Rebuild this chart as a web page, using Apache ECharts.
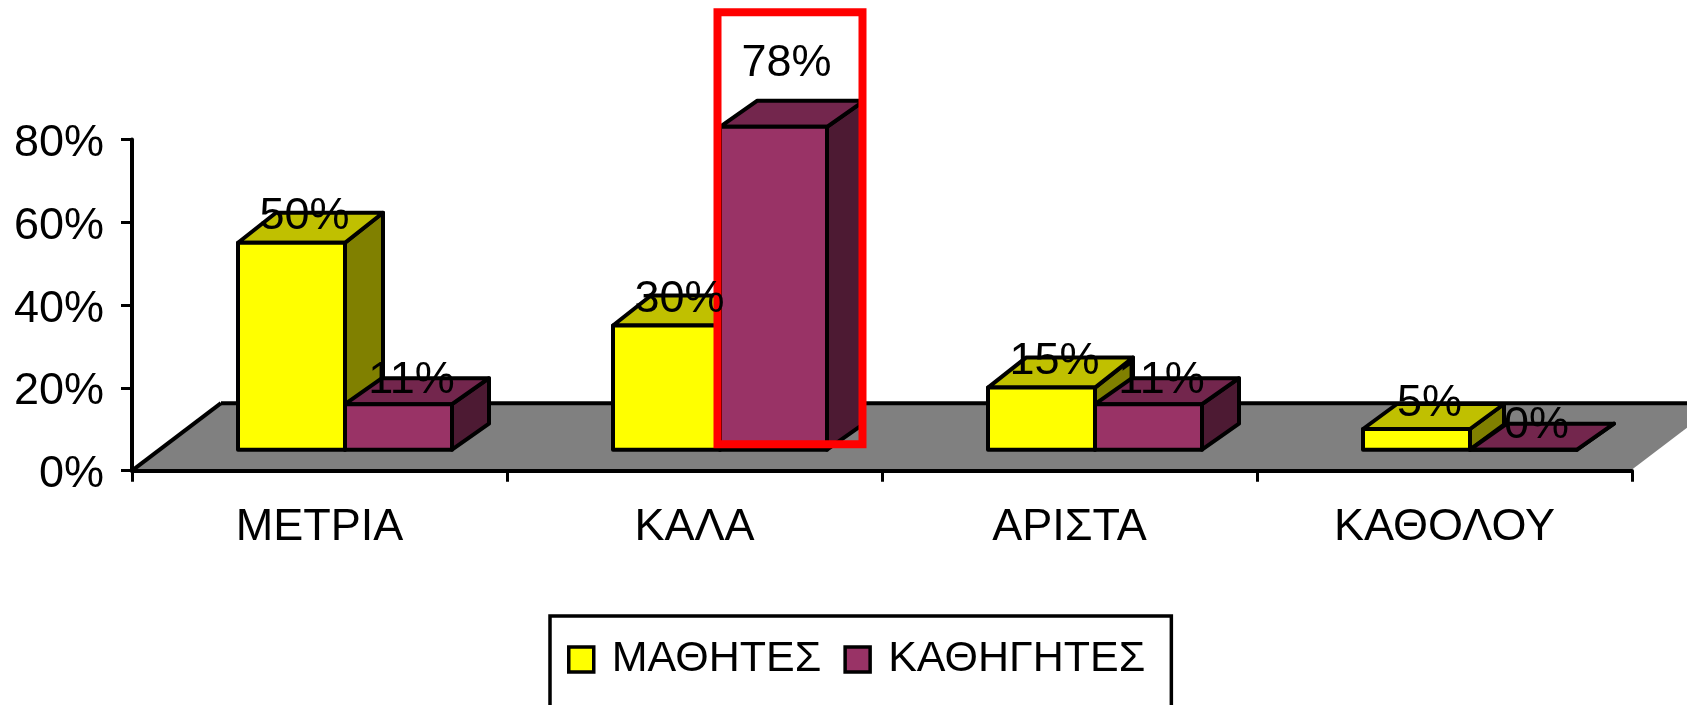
<!DOCTYPE html>
<html>
<head>
<meta charset="utf-8">
<style>html,body{margin:0;padding:0;background:#fff}#c{width:1687px;height:705px}</style>
<script src="https://cdn.jsdelivr.net/npm/echarts@6/dist/echarts.min.js"></script>
</head>
<body>
<div id="c"></div>
<script>
const categories = ['ΜΕΤΡΙΑ', 'ΚΑΛΑ', 'ΑΡΙΣΤΑ', 'ΚΑΘΟΛΟΥ'];
const students = [50, 30, 15, 5];
const teachers = [11, 78, 11, 0];
const seriesNames = ['ΜΑΘΗΤΕΣ', 'ΚΑΘΗΓΗΤΕΣ'];
const yTicks = [0, 20, 40, 60, 80];
const highlighted = 'ΚΑΛΑ';

const FONT = '"Liberation Sans", Arial, sans-serif';
const FS = 45;
const BAR_W = 107, SHIFT_X = 25.5, SHIFT_Y = 21;
const black = '#000';

const poly = (points, fill, z2) => ({
  type: 'polygon', z2,
  shape: { points },
  style: { fill, stroke: black, lineWidth: 4, lineJoin: 'round' }
});

function frame(api, offsetSign) {
  const cat = api.value(0), v = api.value(1);
  const base = api.coord([cat, 0]);
  const top = api.coord([cat, v]);
  const edge = base[0] + SHIFT_X;
  const x0 = offsetSign < 0 ? edge - BAR_W : edge;
  return { cat, v, x0, x1: x0 + BAR_W, y0: base[1] - SHIFT_Y, y1: top[1] - SHIFT_Y };
}

function barItem(api, f, dx, dy, c, z) {
  return [
    poly([[f.x1, f.y0], [f.x1 + dx, f.y0 - dy], [f.x1 + dx, f.y1 - dy], [f.x1, f.y1]], c.side, z),
    poly([[f.x0, f.y1], [f.x0 + dx, f.y1 - dy], [f.x1 + dx, f.y1 - dy], [f.x1, f.y1]], c.top, z),
    poly([[f.x0, f.y0], [f.x1, f.y0], [f.x1, f.y1], [f.x0, f.y1]], c.front, z)
  ];
}

function labelItem(f, dy, shift) {
  return {
    type: 'text', z2: 20,
    style: {
      x: (f.x0 + f.x1) / 2 + 13, y: f.y1 - dy + shift,
      text: f.v + '%', font: FS + 'px ' + FONT, fill: black,
      align: 'center', verticalAlign: 'middle'
    }
  };
}

const yellowColors = { front: '#FFFF00', top: '#C0C000', side: '#808000' };
const purpleColors = { front: '#993366', top: '#73264D', side: '#4D1A33' };

function renderStudents(params, api) {
  const f = frame(api, -1);
  const small = f.v < 10;
  const dx = small ? 34 : 38, dy = small ? 25 : 30;
  return { type: 'group', children: [...barItem(api, f, dx, dy, yellowColors, 1), labelItem(f, dy, small ? 0 : 4)] };
}

function renderTeachers(params, api) {
  const f = frame(api, 1);
  const dx = 37, dy = 26;
  const isHi = categories[f.cat] === highlighted;
  const children = [...barItem(api, f, dx, dy, purpleColors, 2), labelItem(f, dy, isHi ? -37 : 2)];
  if (isHi) {
    children.push({
      type: 'rect', z2: 10,
      shape: { x: f.x0 - 2.5, y: f.y1 - 114.5, width: 145, height: f.y0 - f.y1 + 114.5 - 5.5 },
      style: { fill: 'none', stroke: '#FF0000', lineWidth: 8 }
    });
  }
  return { type: 'group', children };
}

function renderFloor(params, api) {
  const g = params.coordSys;
  const bx = g.x, by = g.y + g.height, rx = g.x + g.width;
  const dx = 89, dy = 67.5;
  const line = (a, b, stroke, lineWidth) => ({
    type: 'line', shape: { x1: a[0], y1: a[1], x2: b[0], y2: b[1] },
    style: { stroke, lineWidth }
  });
  return {
    type: 'group', children: [
      { type: 'polygon', shape: { points: [[bx, by], [rx, by], [rx + dx, by - dy], [bx + dx, by - dy]] }, style: { fill: '#808080' } },
      line([bx + dx, by - dy], [rx + dx, by - dy], black, 4),
      line([bx, by], [bx + dx, by - dy], black, 4),
      line([rx, by], [rx + dx, by - dy], '#fff', 2)
    ]
  };
}

const chart = echarts.init(document.getElementById('c'), null, { renderer: 'canvas' });
chart.setOption({
  animation: false,
  backgroundColor: '#fff',
  textStyle: { fontFamily: FONT },
  grid: { left: 132, right: 55, top: 139.5, bottom: 234.3, containLabel: false },
  xAxis: {
    type: 'category', data: categories, z: 5,
    axisLine: { lineStyle: { color: black, width: 4 } },
    axisTick: { show: true, length: 11, lineStyle: { color: black, width: 3 } },
    axisLabel: { interval: 0, color: black, fontFamily: FONT, fontSize: FS, margin: 34 }
  },
  yAxis: {
    type: 'value', min: yTicks[0], max: yTicks[yTicks.length - 1], interval: yTicks[1] - yTicks[0], z: 5,
    splitLine: { show: false },
    axisLine: { show: true, lineStyle: { color: black, width: 4 } },
    axisTick: { show: true, length: 11, lineStyle: { color: black, width: 3 } },
    axisLabel: { color: black, fontFamily: FONT, fontSize: FS, margin: 28, verticalAlign: 'top', lineHeight: 8, formatter: '{value}%' }
  },
  legend: {
    data: seriesNames.map(name => ({ name, icon: 'rect' })),
    left: 550, top: 616, orient: 'horizontal',
    padding: [22, 26, 60, 17],
    borderColor: black, borderWidth: 3.5, borderRadius: 0,
    itemWidth: 25, itemHeight: 25, itemGap: 22,
    itemStyle: { borderColor: black, borderWidth: 3.5 },
    selectedMode: false,
    textStyle: { color: black, fontFamily: FONT, fontSize: 43, padding: [0, 0, 0, 13] }
  },
  series: [
    { type: 'custom', name: 'floor', z: 1, silent: true, clip: false, renderItem: renderFloor, data: [[0, 0]], encode: { x: 0, y: 1 } },
    { type: 'custom', name: seriesNames[0], z: 2, clip: false, renderItem: renderStudents, itemStyle: { color: yellowColors.front }, encode: { x: 0, y: 1 }, data: students.map((v, i) => [i, v]) },
    { type: 'custom', name: seriesNames[1], z: 2, clip: false, renderItem: renderTeachers, itemStyle: { color: purpleColors.front }, encode: { x: 0, y: 1 }, data: teachers.map((v, i) => [i, v]) }
  ]
});
</script>
</body>
</html>
